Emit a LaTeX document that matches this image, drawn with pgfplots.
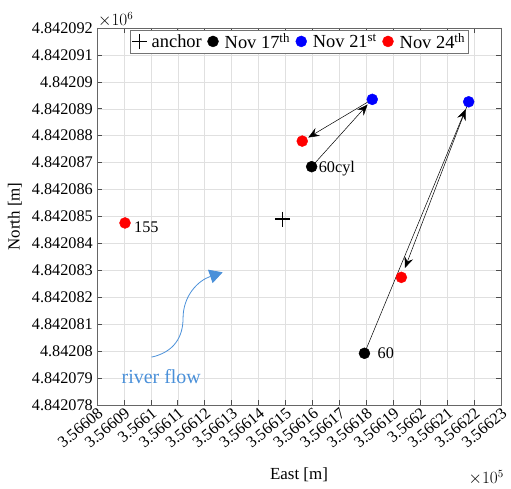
\documentclass[border=0pt]{standalone}
\usepackage{pgfplots}
\pgfplotsset{compat=1.18}
\usepackage{fontspec}
\setmainfont{Liberation Serif}
\usetikzlibrary{arrows.meta}

\definecolor{flowblue}{RGB}{74,144,217}
\definecolor{ptblue}{RGB}{0,0,255}
\definecolor{ptred}{RGB}{255,0,0}

% Positions are given relative to the local origin (356600 E, 4842070 N) in metres;
% the tick labels carry the absolute values.
\begin{document}
\begin{tikzpicture}
\begin{axis}[
  scale only axis, width=404bp, height=377bp,
  xmin=8, xmax=23, ymin=8, ymax=22,
  xtick={8,...,23}, ytick={8,...,22},
  xticklabels={3.56608,3.56609,3.5661,3.56611,3.56612,3.56613,3.56614,3.56615,3.56616,3.56617,3.56618,3.56619,3.5662,3.56621,3.56622,3.56623},
  yticklabels={4.842078,4.842079,4.84208,4.842081,4.842082,4.842083,4.842084,4.842085,4.842086,4.842087,4.842088,4.842089,4.84209,4.842091,4.842092},
  tick label style={font=\fontsize{16.3}{19}\selectfont},
  x tick label style={rotate=40, anchor=north east, inner sep=1bp},
  y tick label style={inner sep=4bp},
  label style={font=\fontsize{17}{20}\selectfont},
  xlabel={East [m]}, ylabel={North [m]},
  xlabel style={at={(axis description cs:0.5,-0.186)}, anchor=center},
  ylabel style={at={(axis description cs:-0.203,0.5)}, anchor=center},
  grid=major,
  major grid style={color=black!12, line width=0.5bp},
  axis line style={color=black!60, line width=0.8bp},
  tick style={color=black!70, line width=0.6bp},
  major tick length=5bp,
  tick align=inside,
  clip=false,
  legend image code/.code={\draw[#1] plot coordinates {(6.5bp,0bp)};\path (0bp,0bp) (17bp,0bp);},
  legend style={at={(0.5,0.995)}, anchor=north, legend columns=4,
    draw=black!55, fill=white, inner sep=2bp,
    nodes={inner sep=1bp},
    font=\fontsize{18.5}{21}\selectfont,
    /tikz/every even column/.append style={column sep=3.5bp}},
  legend cell align=left,
]

% Displacement arrows between surveys
\addplot[forget plot, black, line width=0.5bp, shorten >=7bp,
  -{Stealth[length=11bp, width=9bp, inset=4bp]}] coordinates {(15.97,16.85) (18.22,19.35)};
\addplot[forget plot, black, line width=0.5bp, shorten >=7bp,
  -{Stealth[length=11bp, width=9bp, inset=4bp]}] coordinates {(18.22,19.35) (15.62,17.80)};
\addplot[forget plot, black, line width=0.5bp, shorten >=8bp,
  -{Stealth[length=11bp, width=9bp, inset=4bp]}] coordinates {(17.93,9.92) (21.80,19.26)};
\addplot[forget plot, black, line width=0.5bp, shorten >=10bp,
  -{Stealth[length=11bp, width=9bp, inset=4bp]}] coordinates {(21.80,19.26) (19.30,12.74)};

% Survey positions
\addplot[only marks, mark=+, mark size=7.5bp, line width=1.4bp, black]
  coordinates {(14.88,14.90)};
\addlegendentry{anchor}
\addplot[only marks, mark=*, mark size=5.5bp, black]
  coordinates {(15.97,16.85) (17.93,9.92)};
\addlegendentry{Nov 17\textsuperscript{th}}
\addplot[only marks, mark=*, mark size=5.5bp, ptblue, mark options={draw=ptblue, fill=ptblue}]
  coordinates {(18.22,19.35) (21.80,19.26)};
\addlegendentry{Nov 21\textsuperscript{st}}
\addplot[only marks, mark=*, mark size=5.5bp, ptred, mark options={draw=ptred, fill=ptred}]
  coordinates {(9.04,14.76) (15.62,17.80) (19.30,12.74)};
\addlegendentry{Nov 24\textsuperscript{th}}

% Instrument labels
\node[anchor=west, font=\fontsize{16.3}{19}\selectfont, inner sep=0pt] at (axis cs:9.04,14.76) [xshift=9bp, yshift=-4bp] {155};
\node[anchor=west, font=\fontsize{16.3}{19}\selectfont, inner sep=0pt] at (axis cs:15.97,16.85) [xshift=7bp, yshift=-2bp] {60cyl};
\node[anchor=west, font=\fontsize{16.3}{19}\selectfont, inner sep=0pt] at (axis cs:17.93,9.92) [xshift=13bp, yshift=0bp] {60};

% Flow direction
\draw[flowblue, line width=0.8bp, -{Triangle[length=13bp, width=14bp]}]
  (rel axis cs:0.135,0.127) .. controls (rel axis cs:0.19,0.14) and (rel axis cs:0.213,0.18) ..
  (rel axis cs:0.213,0.23) .. controls (rel axis cs:0.213,0.29) and (rel axis cs:0.25,0.33) ..
  (rel axis cs:0.311,0.352);
\node[flowblue, font=\fontsize{20}{23}\selectfont] at (rel axis cs:0.159,0.076) {river flow};

% Axis multipliers
\node[anchor=south west, font=\fontsize{16.3}{19}\selectfont, inner sep=1bp] at (rel axis cs:0,1) {$\times10^{6}$};
\node[anchor=north east, font=\fontsize{16.3}{19}\selectfont, inner sep=1bp] at (rel axis cs:1,0) [xshift=4bp, yshift=-64bp] {$\times10^{5}$};
\end{axis}
\pgfresetboundingbox
\useasboundingbox ([shift={(-97bp,-84bp)}]current axis.south west) rectangle ([shift={(10bp,28bp)}]current axis.north east);
\end{tikzpicture}
\end{document}
